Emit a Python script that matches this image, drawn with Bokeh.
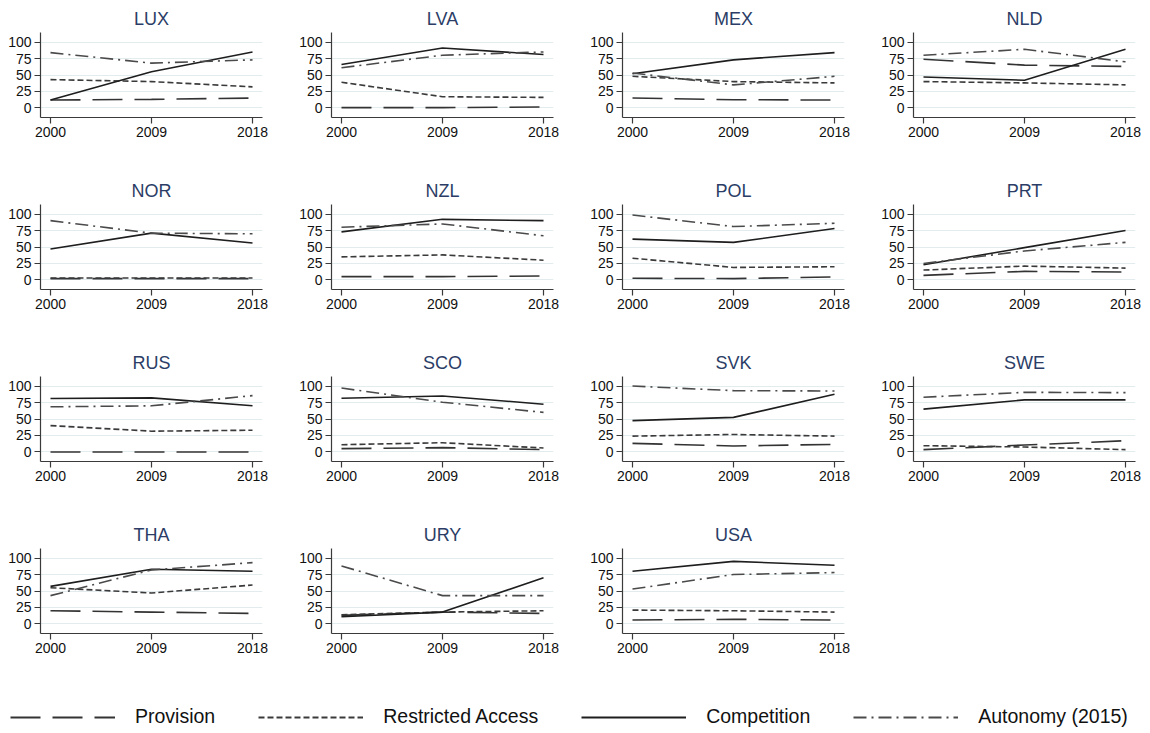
from bokeh.plotting import figure
from bokeh.layouts import gridplot, column
from bokeh.models import Range1d, FixedTicker, Legend, LegendItem
from bokeh.embed import file_html
from bokeh.resources import INLINE

years = [2000, 2009, 2018]
countries = ["LUX", "LVA", "MEX", "NLD", "NOR", "NZL", "POL", "PRT",
             "RUS", "SCO", "SVK", "SWE", "THA", "URY", "USA"]

provision = [
    [12, 13, 15], [0.5, 0.5, 1.5], [15, 12.5, 12], [74, 65, 63],
    [2, 2, 2], [5, 5, 6], [2.5, 2, 4.5], [7, 13, 12],
    [0, 0, 0], [5, 6.5, 3.5], [13, 9, 11.5], [3.5, 10.5, 17],
    [20, 18, 16], [13, 18, 16], [6, 7, 6],
]
restricted = [
    [43, 40, 32], [39, 17, 16], [48, 40, 38], [40, 38, 35],
    [3, 3, 3], [35, 38, 30], [33, 19, 20], [15, 21, 18],
    [40, 31.5, 33], [11, 14, 6], [24, 26.5, 24], [9.5, 7.5, 3.5],
    [55, 47, 59], [14, 18, 20], [21, 20, 18],
]
competition = [
    [12, 55, 85], [66, 91, 81], [52, 73, 84], [47, 42, 89],
    [47, 71, 56], [73, 92, 90], [62, 57, 78], [23, 49, 75],
    [81, 82, 70], [81.5, 85, 72.5], [47.5, 52.5, 87.5], [65, 79, 79],
    [57, 83, 80], [11, 18, 70], [80, 95, 89],
]
autonomy = [
    [84, 68, 73], [61, 80, 85], [53, 35, 48], [80, 89, 70],
    [90, 71, 70], [80, 85, 67], [98.5, 81, 86], [25, 44, 57],
    [68.5, 70, 85.5], [97, 75.5, 60], [100, 93, 92.5], [83, 90.5, 90],
    [43, 82, 93], [88, 43, 43], [53, 75, 78],
]

series_names = ["Provision", "Restricted Access", "Competition", "Autonomy (2015)"]
series_data = [provision, restricted, competition, autonomy]
series_style = [
    dict(line_color="#333333", line_dash="30 12"),
    dict(line_color="#3a3a3a", line_dash="6 3"),
    dict(line_color="#1e1e1e", line_dash="solid"),
    dict(line_color="#4a4a4a", line_dash="13 5 2 5"),
]

y_ticks = [0, 25, 50, 75, 100]
FONT = "Liberation Sans"
FRAME_W, FRAME_H = 222, 85


def make_panel(i, name):
    col, row = i % 4, i // 4
    right = 29 if col < 3 else 15
    bottom = 55 if row < 3 else 33
    p = figure(frame_width=FRAME_W, frame_height=FRAME_H,
               x_range=Range1d(1999.11, 2018.89), y_range=Range1d(-14.5, 114.5),
               output_backend="svg", toolbar_location=None,
               min_border_left=40, min_border_right=right,
               min_border_top=32, min_border_bottom=bottom)
    p.title.text = name
    p.title.align = "center"
    p.title.text_font = FONT
    p.title.text_font_size = "18px"
    p.title.text_font_style = "normal"
    p.title.text_color = "#2b3d66"
    p.title.standoff = 7
    p.outline_line_color = None
    p.xgrid.visible = False
    p.ygrid.grid_line_color = "#e2ebee"
    p.ygrid.grid_line_width = 1.2
    p.xaxis.ticker = FixedTicker(ticks=years)
    p.yaxis.ticker = FixedTicker(ticks=y_ticks)
    for ax in (p.xaxis, p.yaxis):
        ax.axis_line_color = "#3a3a3a"
        ax.axis_line_width = 1.2
        ax.major_tick_line_color = "#3a3a3a"
        ax.major_tick_line_width = 1.2
        ax.major_tick_out = 6
        ax.major_tick_in = 0
        ax.minor_tick_line_color = None
        ax.major_label_text_font = FONT
        ax.major_label_text_font_size = "14px"
        ax.major_label_text_color = "#111111"
        ax.major_label_standoff = 3
    for data, style in zip(series_data, series_style):
        p.line(years, data[i], line_width=1.6, **style)
    return p


panels = [make_panel(i, c) for i, c in enumerate(countries)]
rows = [panels[0:4], panels[4:8], panels[8:12], panels[12:15] + [None]]
grid = gridplot(rows, toolbar_location=None)

# legend strip: renderers reuse real data but sit outside the visible ranges
leg = figure(width=1150, height=66, x_range=Range1d(0, 1), y_range=Range1d(0, 1),
             output_backend="svg", toolbar_location=None,
             x_axis_location=None, y_axis_location=None,
             min_border_left=0, min_border_right=0, min_border_top=0, min_border_bottom=0)
leg.outline_line_color = None
leg.xgrid.visible = False
leg.ygrid.visible = False
items = []
for name, data, style in zip(series_names, series_data, series_style):
    r = leg.line(x=years, y=data[0], line_width=2.2, **style)
    items.append(LegendItem(label=name, renderers=[r]))
legend = Legend(items=items, orientation="horizontal", location=(10, 4),
                glyph_width=105, glyph_height=20, label_standoff=20, spacing=43,
                padding=0, margin=0, border_line_color=None,
                background_fill_alpha=0,
                label_text_font=FONT, label_text_font_size="19.5px",
                label_text_color="#111111")
leg.add_layout(legend)

layout = column(grid, leg)
open("out.html", "w").write(file_html(layout, INLINE))
